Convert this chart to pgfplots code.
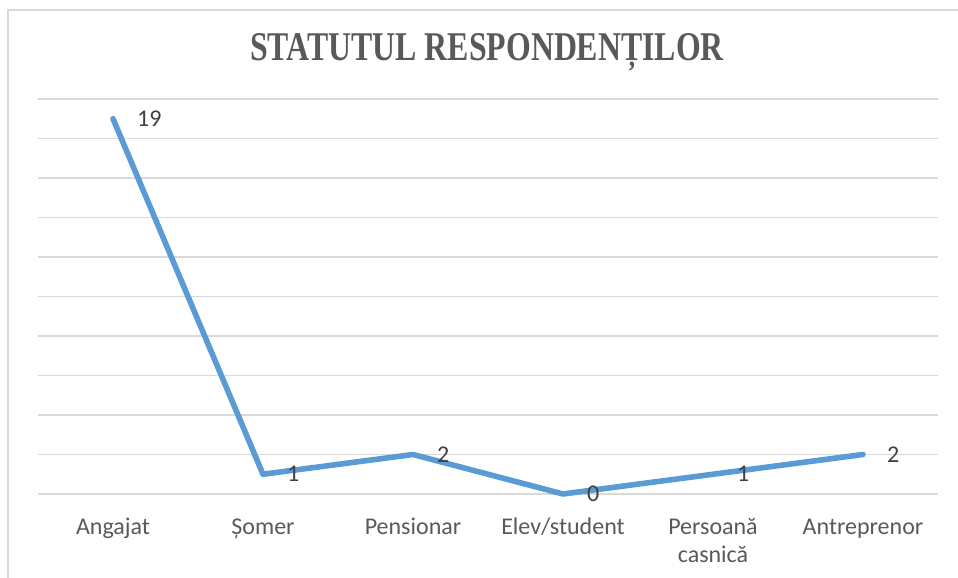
\documentclass[border=0pt]{standalone}
\usepackage{fontspec}
\setmainfont{Carlito}
\newfontfamily\titlefont[FakeStretch=0.78]{Liberation Serif}
\usepackage{pgfplots}
\pgfplotsset{compat=1.18}
\definecolor{lineblue}{HTML}{5B9BD5}
\definecolor{gridgray}{HTML}{D9D9D9}
\definecolor{labelgray}{HTML}{595959}
\definecolor{valgray}{HTML}{404040}

\begin{document}
\begin{tikzpicture}
\useasboundingbox (0,0) rectangle (718.5pt,433.5pt);
\draw[gridgray,line width=1.1pt] (6pt,-5pt) -- (6pt,426pt) -- (725pt,426pt);
\node[font=\titlefont\bfseries\fontsize{30.6}{34}\selectfont,text=labelgray]
  at (365.25pt,394.5pt) {STATUTUL RESPONDENȚILOR};
\begin{axis}[
  at={(28.5pt,63pt)}, anchor=south west,
  scale only axis, width=675pt, height=296.25pt,
  xmin=-0.5, xmax=5.5, ymin=0, ymax=20,
  xtick={0,...,5},
  xticklabels={{\strut Angajat},{\strut Șomer},{\strut Pensionar},{\strut Elev/student},{\strut Persoană\\casnică},{\strut Antreprenor}},
  ytick={0,2,...,20}, yticklabels={},
  ymajorgrids, grid style={gridgray,line width=1pt},
  axis line style={draw=none},
  major tick length=0pt,
  xticklabel style={align=center,font=\fontsize{18}{21.4}\selectfont,text=labelgray,inner sep=0pt,yshift=-15pt},
  clip=false,
  nodes near coords,
  nodes near coords align={anchor=west},
  every node near coord/.append style={font=\fontsize{18}{21}\selectfont,text=valgray,inner sep=0pt,xshift=16pt},
  /pgf/number format/assume math mode=true,
]
\addplot[lineblue,line width=4.2pt,line join=round,line cap=round] coordinates {
  (0,19) (1,1) (2,2) (3,0) (4,1) (5,2)
};
\end{axis}
\end{tikzpicture}
\end{document}
